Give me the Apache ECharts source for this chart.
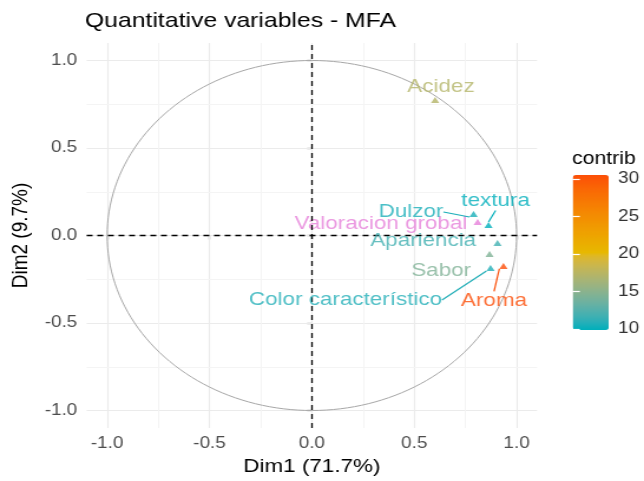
<!DOCTYPE html>
<html>
<head>
<meta charset="utf-8">
<script src="https://cdn.jsdelivr.net/npm/echarts@6/dist/echarts.min.js"></script>
<style>
  html, body { margin: 0; padding: 0; background: #fff; overflow: hidden; }
  /* the plot is laid out at a fixed aspect (unit circle stays round) and then widened */
  #chart { width: 546px; height: 481px; transform: scaleX(1.1795); transform-origin: 0 0; }
</style>
</head>
<body>
<div id="chart"></div>
<script>
// Active quantitative variables: coordinates on Dim1 / Dim2 and contribution (%)
const varNames = ['Acidez', 'Dulzor', 'textura', 'Apariencia', 'Sabor', 'Color característico', 'Aroma'];
const dim1 = [0.602, 0.790, 0.863, 0.907, 0.868, 0.873, 0.936];
const dim2 = [0.774, 0.123, 0.060, -0.043, -0.106, -0.186, -0.174];
const contrib = [17.2, 10.6, 9.87, 11.8, 14.4, 10.8, 30.53];

// Supplementary variable
const supNames = ['Valoracion grobal'];
const supDim1 = [0.810];
const supDim2 = [0.077];

// Axis ticks
const axisTicks = [-1, -0.5, 0, 0.5, 1];
const minorTicks = [-0.75, -0.25, 0.25, 0.75];
const contribTicks = [10, 15, 20, 25, 30];

// Colour ramp for the contribution scale
const rampAnchors = ['#00AFBB', '#E7B800', '#FC4E07'];
const supColor = '#E680DA';

// label placement relative to each marker (px) and whether a leader line is drawn
const labelOffsets = {
  'Acidez': [5, -13, false],
  'Dulzor': [-53, -2, true],
  'textura': [6, -24, true],
  'Apariencia': [-63, -2, false],
  'Sabor': [-41, 17, false],
  'Color característico': [-123, 32, true],
  'Aroma': [-8, 35, true],
  'Valoracion grobal': [-82, 2, false]
};

// --- Lab interpolation helpers for the gradient ---
function hexToRgb(h) { h = h.replace('#', ''); return [0, 2, 4].map(i => parseInt(h.substr(i, 2), 16) / 255); }
function lin(c) { return c <= 0.04045 ? c / 12.92 : Math.pow((c + 0.055) / 1.055, 2.4); }
function delin(c) { return c <= 0.0031308 ? 12.92 * c : 1.055 * Math.pow(c, 1 / 2.4) - 0.055; }
const WP = [0.95047, 1, 1.08883];
function rgbToLab(rgb) {
  const [r, g, b] = rgb.map(lin);
  const X = (0.4124 * r + 0.3576 * g + 0.1805 * b) / WP[0];
  const Y = (0.2126 * r + 0.7152 * g + 0.0722 * b) / WP[1];
  const Z = (0.0193 * r + 0.1192 * g + 0.9505 * b) / WP[2];
  const f = t => t > 0.008856 ? Math.cbrt(t) : 7.787 * t + 16 / 116;
  const fx = f(X), fy = f(Y), fz = f(Z);
  return [116 * fy - 16, 500 * (fx - fy), 200 * (fy - fz)];
}
function labToHex(lab) {
  const fy = (lab[0] + 16) / 116, fx = fy + lab[1] / 500, fz = fy - lab[2] / 200;
  const fi = t => t * t * t > 0.008856 ? t * t * t : (t - 16 / 116) / 7.787;
  const X = fi(fx) * WP[0], Y = fi(fy) * WP[1], Z = fi(fz) * WP[2];
  const r = 3.2406 * X - 1.5372 * Y - 0.4986 * Z;
  const g = -0.9689 * X + 1.8758 * Y + 0.0415 * Z;
  const b = 0.0557 * X - 0.2040 * Y + 1.0570 * Z;
  return '#' + [r, g, b].map(c => {
    const v = Math.round(Math.min(1, Math.max(0, delin(c))) * 255);
    return v.toString(16).padStart(2, '0');
  }).join('');
}
const anchorLab = rampAnchors.map(h => rgbToLab(hexToRgb(h)));
function rampColor(t) {
  const seg = t < 0.5 ? 0 : 1;
  // the teal half lingers in blue-grey tones before turning yellow
  const u = t < 0.5 ? Math.pow(t * 2, 1.6) : (t - 0.5) * 2;
  const a = anchorLab[seg], b = anchorLab[seg + 1];
  return labToHex([0, 1, 2].map(i => a[i] + (b[i] - a[i]) * u));
}
const cMin = Math.min(...contrib), cMax = Math.max(...contrib);
const rampStops = Array.from({ length: 61 }, (_, i) => rampColor(i / 60));
const colorOf = v => rampColor((v - cMin) / (cMax - cMin));

const FONT = 'Liberation Sans';
const tickText = { color: '#4D4D4D', fontSize: 16, fontFamily: FONT };

function labelPlacer(names) {
  return function (p) {
    const off = labelOffsets[names[p.dataIndex]];
    const cx = p.rect.x + p.rect.width / 2;
    const cy = p.rect.y + p.rect.height / 2;
    return { x: cx + off[0], y: cy + off[1], align: 'center', verticalAlign: 'middle' };
  };
}

function pointItems(names, xs, ys, colorFn) {
  return names.map((n, i) => {
    const col = colorFn(i);
    return {
      name: n,
      value: [xs[i], ys[i]],
      label: { color: col },
      labelLine: { show: labelOffsets[n][2], lineStyle: { color: col, width: 1.2 } }
    };
  });
}

// unit circle
const circle = [];
for (let k = 0; k <= 360; k += 2) {
  const a = k * Math.PI / 180;
  circle.push([Math.cos(a), Math.sin(a)]);
}

const gridLines = [];
axisTicks.forEach(v => {
  gridLines.push({ xAxis: v, lineStyle: { color: '#EBEBEB', width: 1.1, type: 'solid' } });
  gridLines.push({ yAxis: v, lineStyle: { color: '#EBEBEB', width: 1.1, type: 'solid' } });
});
minorTicks.forEach(v => {
  gridLines.push({ xAxis: v, lineStyle: { color: '#F4F4F4', width: 1, type: 'solid' } });
  gridLines.push({ yAxis: v, lineStyle: { color: '#F4F4F4', width: 1, type: 'solid' } });
});

const activeItems = pointItems(varNames, dim1, dim2, j => colorOf(contrib[j]));
activeItems.forEach((it, i) => { it.value = [dim1[i], dim2[i], contrib[i]]; });

const chart = echarts.init(document.getElementById('chart'), null, { width: 546, height: 481 });

chart.setOption({
  animation: false,
  backgroundColor: '#ffffff',
  title: {
    text: 'Quantitative variables - MFA',
    left: 72, top: 11, padding: 0,
    textStyle: { fontFamily: FONT, fontSize: 21, fontWeight: 'normal', color: '#000' }
  },
  grid: [
    { left: 69.5, right: 90.7, top: 43, bottom: 53 },
    { left: 485.6, top: 175, width: 30.5, height: 155 }
  ],
  xAxis: [
    {
      type: 'value', min: -1.1, max: 1.1, gridIndex: 0,
      name: 'Dim1 (71.7%)', nameLocation: 'middle', nameGap: 28,
      nameTextStyle: { fontFamily: FONT, fontSize: 19, color: '#000' },
      axisLine: { show: false },
      axisTick: { show: true, customValues: axisTicks, length: 4, lineStyle: { color: '#333', width: 1.2 } },
      axisLabel: Object.assign({ customValues: axisTicks, margin: 8, formatter: v => v.toFixed(1) }, tickText),
      splitLine: { show: false }
    },
    { type: 'value', gridIndex: 1, show: false, min: 0, max: 1 }
  ],
  yAxis: [
    {
      type: 'value', min: -1.1, max: 1.1, gridIndex: 0,
      name: 'Dim2 (9.7%)', nameLocation: 'middle', nameGap: 39, nameRotate: 90,
      nameTextStyle: { fontFamily: FONT, fontSize: 19, color: '#000' },
      axisLine: { show: false },
      axisTick: { show: true, customValues: axisTicks, length: 4, lineStyle: { color: '#333', width: 1.2 } },
      axisLabel: Object.assign({ customValues: axisTicks, margin: 8, formatter: v => v.toFixed(1) }, tickText),
      splitLine: { show: false }
    },
    {
      type: 'value', gridIndex: 1, min: cMin, max: cMax, position: 'right', z: 10,
      axisLine: { show: false },
      axisTick: { show: true, inside: true, customValues: contribTicks, length: 6, lineStyle: { color: '#fff', width: 1.2 } },
      axisLabel: Object.assign({ customValues: contribTicks, margin: 8 }, tickText, { color: '#333' }),
      splitLine: { show: false }
    },
    {
      type: 'value', gridIndex: 1, min: cMin, max: cMax, position: 'left', z: 10,
      axisLine: { show: false },
      axisTick: { show: true, inside: true, customValues: contribTicks, length: 6, lineStyle: { color: '#fff', width: 1.2 } },
      axisLabel: { show: false },
      splitLine: { show: false }
    }
  ],
  visualMap: {
    type: 'continuous',
    seriesIndex: 2,
    dimension: 2,
    min: cMin, max: cMax,
    left: 485.6, top: 175,
    itemWidth: 30.5, itemHeight: 155,
    padding: 0,
    calculable: false,
    text: null,
    inRange: { color: rampStops }
  },
  graphic: [{
    type: 'text', left: 485, top: 150, z: 20,
    style: { text: 'contrib', fontFamily: FONT, fontSize: 18, fill: '#000' }
  }],
  series: [
    {
      // panel grid lines
      type: 'line', data: [], xAxisIndex: 0, yAxisIndex: 0, z: 1, silent: true,
      markLine: { silent: true, symbol: 'none', label: { show: false }, data: gridLines, z: 1 }
    },
    {
      // correlation circle with the dashed origin lines
      type: 'line', data: circle, xAxisIndex: 0, yAxisIndex: 0, z: 2, silent: true,
      showSymbol: false, smooth: false,
      lineStyle: { color: '#A8A8A8', width: 1 },
      markLine: {
        silent: true, symbol: 'none', label: { show: false },
        lineStyle: { color: '#000', width: 1.3, type: [5, 4] },
        data: [{ xAxis: 0 }, { yAxis: 0 }]
      }
    },
    {
      type: 'scatter', xAxisIndex: 0, yAxisIndex: 0, z: 5,
      symbol: 'triangle', symbolSize: [7, 6],
      data: activeItems,
      label: { show: true, formatter: '{b}', fontFamily: FONT, fontSize: 19 },
      labelLayout: labelPlacer(varNames),
      labelLine: { show: true }
    },
    {
      type: 'scatter', xAxisIndex: 0, yAxisIndex: 0, z: 4,
      symbol: 'triangle', symbolSize: [7, 6],
      itemStyle: { color: supColor },
      data: pointItems(supNames, supDim1, supDim2, () => supColor),
      label: { show: true, formatter: '{b}', fontFamily: FONT, fontSize: 19 },
      labelLayout: labelPlacer(supNames)
    }
  ]
});
</script>
</body>
</html>
